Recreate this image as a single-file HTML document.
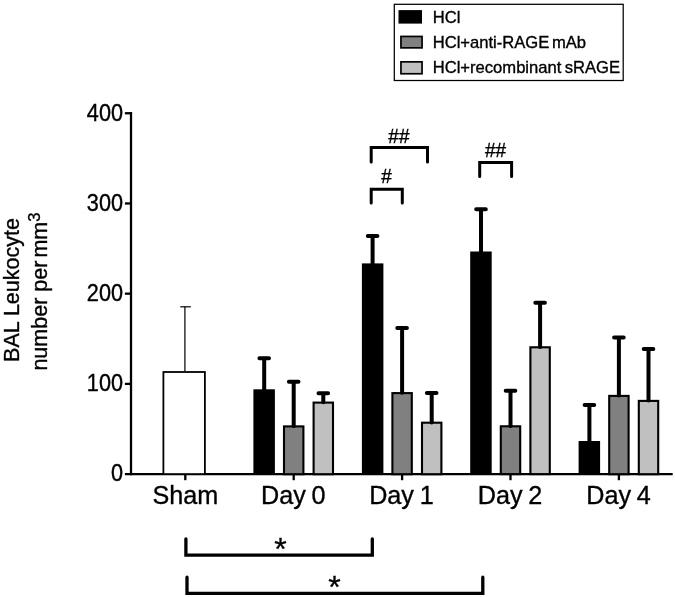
<!DOCTYPE html>
<html><head><meta charset="utf-8">
<style>
html,body{margin:0;padding:0;background:#fff;}
body{width:675px;height:597px;overflow:hidden;}
svg{display:block;will-change:transform;}
text{font-family:"Liberation Sans",sans-serif;fill:#000;stroke:#000;stroke-width:0.35px;}
</style></head><body>
<svg width="675" height="597" viewBox="0 0 675 597">
<rect width="675" height="597" fill="#fff"/>

<!-- legend -->
<rect x="394.3" y="4.3" width="228.9" height="76.2" fill="#fff" stroke="#000" stroke-width="1.25"/>
<rect x="398.5" y="10.1" width="23.5" height="13.5" fill="#000"/>
<rect x="400.95" y="36.45" width="21.1" height="11.4" fill="#808080" stroke="#000" stroke-width="1.7"/>
<rect x="400.95" y="61.85" width="21.1" height="11.9" fill="#c0c0c0" stroke="#000" stroke-width="1.7"/>
<text x="432.7" y="22.9" font-size="16.6" style="word-spacing:-1.2px">HCl</text>
<text x="432.7" y="47.8" font-size="16.6" style="word-spacing:-2px">HCl+anti-RAGE mAb</text>
<text x="432.7" y="73.3" font-size="16.6" style="word-spacing:-1.2px">HCl+recombinant sRAGE</text>

<!-- y axis label -->
<text transform="translate(19.4,361.9) rotate(-90)" font-size="21.5">BAL Leukocyte</text>
<text transform="translate(47.2,370.6) rotate(-90)" font-size="21.5">number per<tspan dx="3.1">mm</tspan><tspan font-size="16.5" dy="-7.6" dx="0">3</tspan></text>

<!-- axes -->
<g stroke="#000" stroke-width="2.3" fill="none">
<line x1="131.0" y1="112.1" x2="131.0" y2="475.25"/>
<line x1="124.9" y1="474.1" x2="672.7" y2="474.1"/>
<line x1="124.9" y1="113.25" x2="131.0" y2="113.25"/>
<line x1="124.9" y1="203.46" x2="131.0" y2="203.46"/>
<line x1="124.9" y1="293.68" x2="131.0" y2="293.68"/>
<line x1="124.9" y1="383.89" x2="131.0" y2="383.89"/>
<line x1="185.3" y1="474.1" x2="185.3" y2="480.2"/>
<line x1="293.7" y1="474.1" x2="293.7" y2="480.2"/>
<line x1="402.1" y1="474.1" x2="402.1" y2="480.2"/>
<line x1="510.5" y1="474.1" x2="510.5" y2="480.2"/>
<line x1="618.9" y1="474.1" x2="618.9" y2="480.2"/>
</g>
<g font-size="22" text-anchor="end">
<text transform="translate(123.0,120.5) scale(0.985,1.055)">400</text>
<text transform="translate(123.0,210.7) scale(0.985,1.055)">300</text>
<text transform="translate(123.0,300.9) scale(0.985,1.055)">200</text>
<text transform="translate(123.0,391.1) scale(0.985,1.055)">100</text>
<text transform="translate(123.0,481.3) scale(0.985,1.055)">0</text>
</g>
<g font-size="25.2" text-anchor="middle" style="word-spacing:-1.3px">
<text x="185.3" y="503.6">Sham</text>
<text x="293.3" y="503.6">Day 0</text>
<text x="401.4" y="503.6">Day 1</text>
<text x="510.1" y="503.6">Day 2</text>
<text x="618.5" y="503.6">Day 4</text>
</g>

<!-- sham -->
<g stroke="#000" stroke-width="1.2" fill="none">
<line x1="184.9" y1="306.8" x2="184.9" y2="371"/>
<line x1="180.3" y1="306.8" x2="190.8" y2="306.8"/>
</g>
<rect x="163.4" y="372" width="41.5" height="102.1" fill="#fff" stroke="#000" stroke-width="1.8"/>


<g>
<rect x="253.4" y="389.3" width="21.5" height="85.7" fill="#000"/>
<rect x="284.0" y="426.4" width="19.4" height="47.8" fill="#808080" stroke="#000" stroke-width="2.1"/>
<rect x="313.6" y="402.6" width="19.4" height="71.6" fill="#c0c0c0" stroke="#000" stroke-width="2.1"/>
<rect x="361.9" y="263.4" width="21.5" height="211.6" fill="#000"/>
<rect x="392.4" y="393.1" width="19.4" height="81.1" fill="#808080" stroke="#000" stroke-width="2.1"/>
<rect x="422.0" y="422.7" width="19.4" height="51.5" fill="#c0c0c0" stroke="#000" stroke-width="2.1"/>
<rect x="470.2" y="251.5" width="21.5" height="223.5" fill="#000"/>
<rect x="500.8" y="426.3" width="19.4" height="47.8" fill="#808080" stroke="#000" stroke-width="2.1"/>
<rect x="530.4" y="347.3" width="19.4" height="126.8" fill="#c0c0c0" stroke="#000" stroke-width="2.1"/>
<rect x="578.6" y="441.0" width="21.5" height="34.0" fill="#000"/>
<rect x="609.2" y="395.9" width="19.4" height="78.3" fill="#808080" stroke="#000" stroke-width="2.1"/>
<rect x="638.8" y="400.9" width="19.4" height="73.3" fill="#c0c0c0" stroke="#000" stroke-width="2.1"/>
</g>

<!-- error bars thick -->
<g stroke="#000" stroke-width="4" stroke-linecap="round" fill="none">
<path d="M264.2,390.1 V358.3 M259.4,358.3 H269.0"/>
<path d="M293.7,426.1 V381.7 M288.9,381.7 H298.5"/>
<path d="M323.3,402.3 V393.3 M318.5,393.3 H328.1"/>
<path d="M372.6,264.2 V236.1 M367.8,236.1 H377.4"/>
<path d="M402.1,392.8 V328.0 M397.3,328.0 H406.9"/>
<path d="M431.7,422.4 V393.0 M426.9,393.0 H436.5"/>
<path d="M481.0,252.3 V209.3 M476.2,209.3 H485.8"/>
<path d="M510.5,426.0 V390.8 M505.7,390.8 H515.3"/>
<path d="M540.1,347.0 V302.8 M535.3,302.8 H544.9"/>
<path d="M589.4,441.8 V404.9 M584.6,404.9 H594.2"/>
<path d="M618.9,395.6 V337.6 M614.1,337.6 H623.7"/>
<path d="M648.5,400.6 V349.0 M643.7,349.0 H653.3"/>
</g>
<!-- brackets -->
<g stroke="#000" stroke-width="3" stroke-linecap="round" stroke-linejoin="miter" fill="none">
<polyline points="371.2,202.9 371.2,189.2 402.3,189.2 402.3,202.9"/>
<polyline points="371.2,161.9 371.2,147.6 427.5,147.6 427.5,161.9"/>
<polyline points="479.7,176.5 479.7,162.6 511.6,162.6 511.6,176.5"/>
</g>
<g stroke="#000" stroke-width="3.3" stroke-linecap="round" stroke-linejoin="miter" fill="none">
<polyline points="185.9,538.9 185.9,555.2 372.3,555.2 372.3,538.9"/>
<polyline points="187.0,577.2 187.0,593.4 482.8,593.4 482.8,577.2"/>
</g>
<g font-size="19" text-anchor="middle">
<text transform="translate(386.5,183.2) scale(1,1.07)">#</text>
<text transform="translate(398.9,142.6) scale(1,1.07)">##</text>
<text transform="translate(495.6,157.4) scale(1,1.07)">##</text>
</g>
<g font-size="32" text-anchor="middle" style="stroke-width:0.6px">
<text x="280.4" y="560">*</text>
<text x="334.5" y="598.4">*</text>
</g>
</svg>
</body></html>
